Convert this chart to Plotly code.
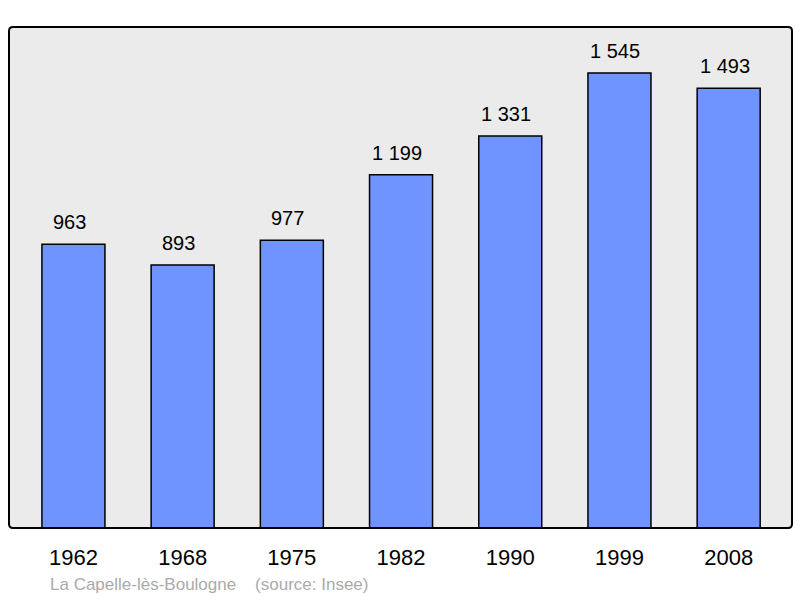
import plotly.graph_objects as go

years = ["1962", "1968", "1975", "1982", "1990", "1999", "2008"]
population = [963, 893, 977, 1199, 1331, 1545, 1493]
value_labels = ["963", "893", "977", "1 199", "1 331", "1 545", "1 493"]
source_text = "La Capelle-lès-Boulogne    (source: Insee)"

fig = go.Figure()
fig.add_trace(go.Bar(
    x=list(range(len(years))), y=population, width=0.577,
    marker=dict(color="#7094ff", line=dict(color="#000000", width=1.5)),
    hoverinfo="skip",
))

for i, (v, lab) in enumerate(zip(population, value_labels)):
    fig.add_annotation(x=i, y=v, text=lab, showarrow=False, yanchor="bottom",
                       yshift=9, xshift=-4, font=dict(size=20, color="#000000"))

fig.add_annotation(xref="paper", yref="paper", x=0.05, y=-0.113, xanchor="left",
                   yanchor="middle", text=source_text, showarrow=False,
                   font=dict(size=17, color="#aaaaaa"))

# rounded border
rx, ry = 4/783, 4/501
path = (f"M {rx},0 L {1-rx},0 Q 1,0 1,{ry} L 1,{1-ry} Q 1,1 {1-rx},1 "
        f"L {rx},1 Q 0,1 0,{1-ry} L 0,{ry} Q 0,0 {rx},0 Z")
fig.add_shape(type="path", path=path, xref="paper", yref="paper",
              line=dict(color="#000000", width=2), layer="above")

fig.update_layout(
    width=800, height=598,
    margin=dict(l=9, r=8, t=27, b=70),
    paper_bgcolor="#ffffff", plot_bgcolor="#ebebeb",
    showlegend=False,
    font=dict(family="Liberation Sans, Arial, sans-serif"),
    xaxis=dict(range=[-0.59, 6.58], tickmode="array",
               tickvals=list(range(len(years))), ticktext=years,
               showgrid=False, zeroline=False, ticks="outside", ticklen=10,
               tickcolor="rgba(0,0,0,0)", tickfont=dict(size=22, color="#000000")),
    yaxis=dict(range=[0, 1701], showgrid=False, zeroline=False,
               showticklabels=False, ticks=""),
)

fig.write_html("out.html", config={"displayModeBar": False},
               post_script="document.body.style.margin='0';document.body.style.overflow='hidden';")
